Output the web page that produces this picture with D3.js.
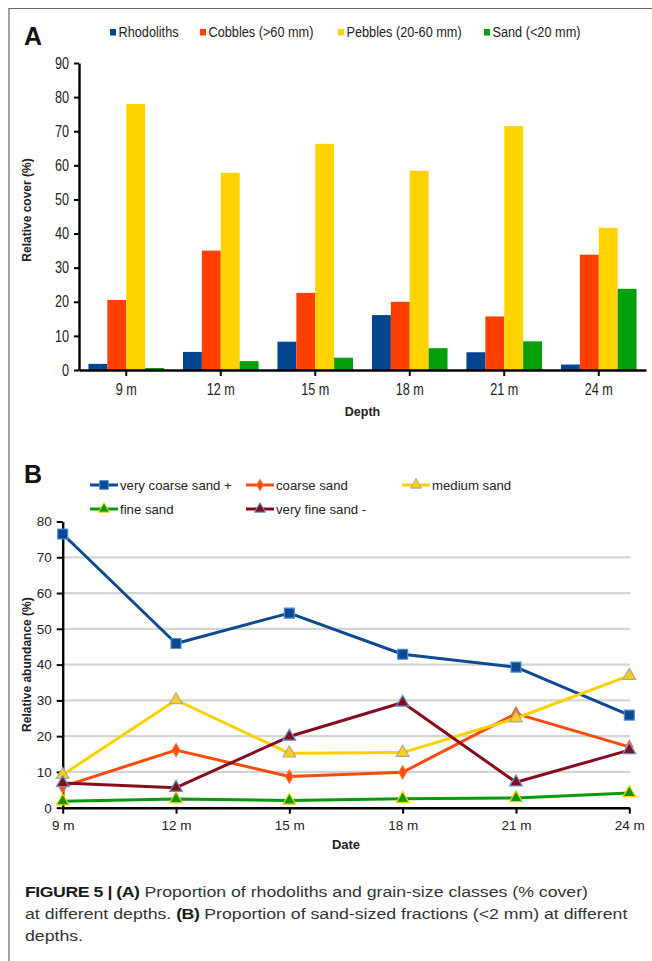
<!DOCTYPE html>
<html><head><meta charset="utf-8">
<script src="https://cdn.jsdelivr.net/npm/d3@7"></script>
<style>
body{margin:0;background:#fff;}
svg{display:block;font-family:'Liberation Sans',Arial,Helvetica,sans-serif;}
</style></head><body>
<svg id="c" width="652" height="961"></svg>
<script>
// ---------- DATA ----------
const depths = ["9 m","12 m","15 m","18 m","21 m","24 m"];
// Panel A – relative cover (%)
const coverSeries = ["Rhodoliths","Cobbles (>60 mm)","Pebbles (20-60 mm)","Sand (<20 mm)"];
const rhodoliths = [1.8, 5.3, 8.3, 16.1, 5.2, 1.6];
const cobbles    = [20.5, 35.0, 22.6, 20.0, 15.7, 33.8];
const pebbles    = [78.0, 57.8, 66.3, 58.4, 71.5, 41.7];
const sandCover  = [0.6, 2.6, 3.6, 6.4, 8.4, 23.8];
const coverTicks = [0,10,20,30,40,50,60,70,80,90];
// Panel B – relative abundance (%)
const sandSeries = ["very coarse sand +","coarse sand","medium sand","fine sand","very fine sand -"];
const veryCoarse = [76.5, 45.9, 54.4, 42.9, 39.3, 25.9];
const coarse     = [5.9, 16.1, 8.7, 9.9, 26.3, 17.0];
const medium     = [9.2, 30.1, 15.2, 15.4, 25.0, 36.9];
const fine       = [1.8, 2.4, 2.0, 2.5, 2.7, 4.1];
const veryFine   = [6.9, 5.6, 19.9, 29.4, 7.1, 16.1];
const abundanceTicks = [0,10,20,30,40,50,60,70,80];

// ---------- STYLE ----------
const barColors = ["#03458f","#ff3f00","#ffd300","#04a00b"];
const lineStyles = [
  {stroke:"#0b4a92", fill:"#0b4a92", mstroke:"#4f8fd0", sym:d3.symbolSquare,  size:100},
  {stroke:"#ff4a0a", fill:"#ff4a0a", mstroke:"#ff6a2a", sym:d3.symbolDiamond, size:48},
  {stroke:"#ffd000", fill:"#ffcf10", mstroke:"#a8a8a8", sym:d3.symbolTriangle,size:70},
  {stroke:"#0a990a", fill:"#0a990a", mstroke:"#ffd000", sym:d3.symbolTriangle,size:70},
  {stroke:"#870b1e", fill:"#870b1e", mstroke:"#5b9bd5", sym:d3.symbolTriangle,size:70}
];
const legendAX = [110, 200, 338, 484];   // legend item positions (layout)

const svg = d3.select("#c");
function narrow(sel, f){
  sel.each(function(){
    const w = this.getComputedTextLength();
    d3.select(this).attr("textLength", w*f).attr("lengthAdjust","spacingAndGlyphs");
  });
}

// frame
svg.append("path").attr("d","M9,961V8.5H652").attr("fill","none")
   .attr("stroke","#666").attr("stroke-width",1.2);

// ================= PANEL A =================
const xA = d3.scaleBand().domain(depths).range([79,646]).paddingInner(0.2).paddingOuter(0.1);
const xSub = d3.scaleBand().domain(coverSeries).range([0, xA.bandwidth()]);
const yA = d3.scaleLinear().domain([0,90]).range([370,63]);
const coverData = [rhodoliths, cobbles, pebbles, sandCover];

const gA = svg.append("g");
coverData.forEach((vals, si) => {
  gA.append("g").selectAll("rect").data(vals).join("rect")
    .attr("x", (d,i) => xA(depths[i]) + xSub(coverSeries[si]))
    .attr("y", d => yA(d))
    .attr("width", xSub.bandwidth())
    .attr("height", d => yA(0) - yA(d))
    .attr("fill", barColors[si]);
});

const axYA = gA.append("g").attr("transform","translate(79,0)")
  .call(d3.axisLeft(yA).tickValues(coverTicks).tickSize(5).tickPadding(5).tickSizeOuter(0));
const axXA = gA.append("g").attr("transform","translate(0,370)")
  .call(d3.axisBottom(xA).tickSize(6).tickPadding(7.5).tickSizeOuter(0));
[axYA, axXA].forEach(a => {
  a.select(".domain").attr("stroke","#000").attr("stroke-width",2.4);
  a.selectAll(".tick line").attr("stroke","#000").attr("stroke-width",2);
  a.selectAll(".tick text").attr("font-size",16).attr("fill","#222")
    .attr("font-family","'Liberation Sans',Arial,sans-serif");
  narrow(a.selectAll(".tick text"), 0.79);
});

// legend A
coverSeries.forEach((name, i) => {
  const lx = legendAX[i];
  gA.append("rect").attr("x", lx).attr("y", 29).attr("width", 6).attr("height", 6.5).attr("fill", barColors[i]);
  const t = gA.append("text").attr("x", lx + 8.5).attr("y", 37).attr("font-size", 15.5).attr("fill","#222").text(name);
  narrow(t, 0.82);
});

gA.append("text").attr("x",24).attr("y",45).attr("font-size",25).attr("font-weight","bold").attr("fill","#111").text("A");
gA.append("text").attr("x",(79+646)/2).attr("y",416).attr("text-anchor","middle")
  .attr("font-size",12.5).attr("font-weight","bold").attr("fill","#222").text("Depth");
gA.append("text").attr("transform","translate(30.5,210) rotate(-90)").attr("text-anchor","middle")
  .attr("font-size",12).attr("font-weight","bold").attr("fill","#222").text("Relative cover (%)");

// ================= PANEL B =================
const xB = d3.scalePoint().domain(depths).range([62.7, 629.3]);
const yB = d3.scaleLinear().domain([0,80]).range([807.7, 521.5]);
const sandData = [veryCoarse, coarse, medium, fine, veryFine];
const gB = svg.append("g");

// gridlines
gB.append("g").selectAll("line").data(abundanceTicks.filter(t => t > 0 && t < 80)).join("line")
  .attr("x1", xB.range()[0]).attr("x2", xB.range()[1] + 1)
  .attr("y1", d => yB(d)).attr("y2", d => yB(d))
  .attr("stroke","#d4d4d4").attr("stroke-width",2.2);

const axYB = gB.append("g").attr("transform","translate(62.7,0)")
  .call(d3.axisLeft(yB).tickValues(abundanceTicks).tickSize(6).tickPadding(5).tickSizeOuter(0));
const axXB = gB.append("g").attr("transform","translate(0,807.7)")
  .call(d3.axisBottom(xB).tickSize(6).tickPadding(6.5).tickSizeOuter(0));
[axYB, axXB].forEach(a => {
  a.select(".domain").attr("stroke","#000").attr("stroke-width",2.4);
  a.selectAll(".tick line").attr("stroke","#000").attr("stroke-width",2);
  a.selectAll(".tick text").attr("font-size",13.5).attr("fill","#222")
    .attr("font-family","'Liberation Sans',Arial,sans-serif");
});

const line = d3.line().x((d,i) => xB(depths[i])).y(d => yB(d));
sandData.forEach((vals, si) => {
  const st = lineStyles[si];
  gB.append("path").datum(vals).attr("d", line).attr("fill","none")
    .attr("stroke", st.stroke).attr("stroke-width", 3).attr("stroke-linejoin","round");
  gB.append("g").selectAll("path").data(vals).join("path")
    .attr("transform", (d,i) => `translate(${xB(depths[i])},${yB(d)})`)
    .attr("d", d3.symbol().type(st.sym).size(st.size))
    .attr("fill", st.fill).attr("stroke", st.mstroke).attr("stroke-width", 1.2);
});

// legend B
const legCols = [90, 246, 402], legRows = [485, 509];
sandSeries.forEach((name, i) => {
  const st = lineStyles[i];
  const x0 = legCols[i % 3], y0 = legRows[Math.floor(i / 3)];
  gB.append("line").attr("x1", x0).attr("x2", x0 + 28).attr("y1", y0).attr("y2", y0)
    .attr("stroke", st.stroke).attr("stroke-width", 3);
  gB.append("path").attr("transform", `translate(${x0 + 14},${y0})`)
    .attr("d", d3.symbol().type(st.sym).size(st.size * 0.75))
    .attr("fill", st.fill).attr("stroke", st.mstroke).attr("stroke-width", 1);
  gB.append("text").attr("x", x0 + 30).attr("y", y0 + 4.5).attr("font-size", 13.2).attr("fill","#222").text(name);
});

gB.append("text").attr("x",24).attr("y",483).attr("font-size",25).attr("font-weight","bold").attr("fill","#111").text("B");
gB.append("text").attr("x",(62.7+629.3)/2).attr("y",849).attr("text-anchor","middle")
  .attr("font-size",13).attr("font-weight","bold").attr("fill","#222").text("Date");
gB.append("text").attr("transform","translate(31,664.6) rotate(-90)").attr("text-anchor","middle")
  .attr("font-size",12).attr("font-weight","bold").attr("fill","#222").text("Relative abundance (%)");

// ================= CAPTION =================
const capLines = [
  [["FIGURE 5 | ",true],["(A)",true],[" Proportion of rhodoliths and grain-size classes (% cover)",false]],
  [["at different depths. ",false],["(B)",true],[" Proportion of sand-sized fractions (<2 mm) at different",false]],
  [["depths.",false]]
];
const capY = [897, 919, 941];
const capG = svg.append("g");
const capTexts = capLines.map((parts, li) => {
  const t = capG.append("text").attr("font-size", 15.5).attr("fill","#333").attr("y", 0);
  parts.forEach(([s, b]) => t.append("tspan").attr("font-weight", b ? "bold" : "normal")
    .attr("letter-spacing", b ? -0.4 : 0)
    .attr("fill", b ? "#1a1a1a" : "#333").text(s));
  return t;
});
const f = (628 - 25) / capTexts[1].node().getComputedTextLength();
capTexts.forEach((t, li) => t.attr("transform", `translate(25,${capY[li]}) scale(${f},1)`));
</script>
</body></html>
